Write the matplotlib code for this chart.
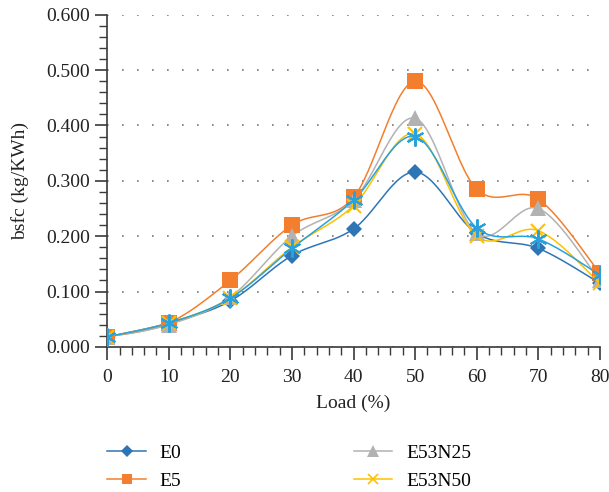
import numpy as np
import matplotlib
matplotlib.use("Agg")
import matplotlib.pyplot as plt
from matplotlib.ticker import MultipleLocator, FormatStrFormatter

plt.rcParams['font.family'] = ['Liberation Serif', 'DejaVu Serif']

load = [0, 10, 20, 30, 40, 50, 60, 70, 80]
e0 = [0.018, 0.043, 0.083, 0.165, 0.213, 0.316, 0.205, 0.178, 0.115]
e5 = [0.018, 0.043, 0.120, 0.220, 0.270, 0.480, 0.285, 0.267, 0.133]
e53n25 = [0.018, 0.040, 0.090, 0.200, 0.265, 0.413, 0.205, 0.250, 0.120]
e53n50 = [0.018, 0.043, 0.088, 0.180, 0.255, 0.385, 0.200, 0.210, 0.115]
e53n75 = [0.018, 0.043, 0.088, 0.178, 0.265, 0.380, 0.215, 0.195, 0.130]

series = [
    ("E0", e0, "#2e75b6", "D", 8.5),
    ("E5", e5, "#f37f2e", "s", 11),
    ("E53N25", e53n25, "#b2b2b2", "^", 12),
    ("E53N50", e53n50, "#ffc000", "x", 10),
    (None, e53n75, "#27a2dc", (6, 2, 0), 13),
]


def smooth(x, y, n=30):
    # Catmull-Rom style smoothing, like a spreadsheet "smoothed line"
    x = np.asarray(x, float)
    y = np.asarray(y, float)
    px = np.concatenate([[x[0]], x, [x[-1]]])
    py = np.concatenate([[y[0]], y, [y[-1]]])
    xs, ys = [], []
    t = np.linspace(0, 1, n)
    for i in range(1, len(px) - 2):
        b0 = np.array([px[i], py[i]])
        b3 = np.array([px[i + 1], py[i + 1]])
        b1 = b0 + (np.array([px[i + 1], py[i + 1]]) - np.array([px[i - 1], py[i - 1]])) / 6
        b2 = b3 - (np.array([px[i + 2], py[i + 2]]) - np.array([px[i], py[i]])) / 6
        pts = ((1 - t) ** 3)[:, None] * b0 + (3 * (1 - t) ** 2 * t)[:, None] * b1 \
            + (3 * (1 - t) * t ** 2)[:, None] * b2 + (t ** 3)[:, None] * b3
        xs.extend(pts[:, 0])
        ys.extend(pts[:, 1])
    return xs, ys


fig = plt.figure(figsize=(6.09, 4.92), dpi=100)
ax = fig.add_axes([0.176, 0.295, 0.809, 0.675])

handles = []
for name, vals, color, marker, ms in series:
    sx, sy = smooth(load, vals)
    ax.plot(sx, sy, color=color, linewidth=1.1, zorder=2)
    ax.plot(load, vals, linestyle='none', marker=marker, color=color,
            markersize=ms, markeredgewidth=1.5 if marker in ("x", (6, 2, 0)) else 0,
            zorder=3)
    if name:
        h, = ax.plot([], [], color=color, linewidth=1.1, marker=marker,
                     markersize=ms * 0.7, markeredgewidth=1.2 if marker == "x" else 0)
        handles.append((h, name))

ax.set_xlim(0, 80)
ax.set_ylim(0, 0.6)
ax.xaxis.set_major_locator(MultipleLocator(10))
ax.xaxis.set_minor_locator(MultipleLocator(2))
ax.yaxis.set_major_locator(MultipleLocator(0.1))
ax.yaxis.set_minor_locator(MultipleLocator(0.02))
ax.yaxis.set_major_formatter(FormatStrFormatter('%.3f'))

ax.spines['top'].set_visible(False)
ax.spines['right'].set_visible(False)
for s in ('left', 'bottom'):
    ax.spines[s].set_color('#3a3a3a')
    ax.spines[s].set_linewidth(1.2)

ax.tick_params(which='major', length=9, width=1.2, color='#3a3a3a', labelsize=14,
               labelcolor='#222222')
ax.tick_params(which='minor', length=6, width=1.0, color='#3a3a3a')
ax.tick_params(axis='x', pad=7)

ax.grid(axis='y', which='major', color='#777777', linestyle=(0, (1, 8)), linewidth=1.2)
ax.set_axisbelow(True)

ax.set_xlabel("Load (%)", fontsize=14, color='#222222', labelpad=6)
ax.set_ylabel("bsfc (kg/KWh)", fontsize=14, color='#222222', labelpad=12)

fig.legend([h for h, _ in handles], [n for _, n in handles],
           loc='upper left', bbox_to_anchor=(0.176, 0.097), ncol=2, frameon=False,
           fontsize=14, columnspacing=8.85, handlelength=2.0, handletextpad=0.7,
           labelspacing=0.52, borderpad=0, borderaxespad=0)

fig.savefig("out.png", dpi=100)
